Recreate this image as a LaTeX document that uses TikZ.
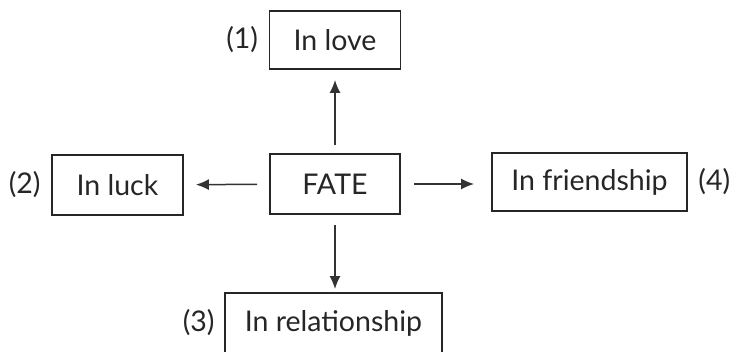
\documentclass[tikz,border=0pt]{standalone}
\usepackage{fontspec}
\setmainfont{Lato}
\usetikzlibrary{shapes, arrows.meta, positioning}

\begin{document}
\begin{tikzpicture}[x=1pt, y=-1pt]
        \tikzstyle{every node}=[align=center, font=\fontsize{28.5}{31}\selectfont, text=black!85]
        \tikzstyle{box}=[draw=black!85, line width=1.8pt, minimum height=58pt, inner sep=0pt]
        \tikzstyle{link}=[>={Latex[length=13pt, width=11pt]}, ->, line width=1.5pt, draw=black!80]
        \useasboundingbox (0,0) rectangle (736,352);

        \node[box, minimum width=131pt] at (335, 40) (love) {In love};
        \node[box, minimum width=130pt, minimum height=60pt] at (335, 184) (fate) {FATE};
        \node[box, minimum width=131pt, minimum height=60pt] at (117.5, 185) (luck) {In luck};
        \node[box, minimum width=195pt] at (589.5, 182) (friend) {In friendship};
        \node[box, minimum width=217pt, minimum height=60pt] at (333.5, 323) (rel) {In relationship};

        \node[left=7pt of love] (n1) {(1)};
        \node[left=7pt of luck] (n2) {(2)};
        \node[left=6pt of rel] (n3) {(3)};
        \node[right=7pt of friend] (n4) {(4)};

        \draw[link, shorten <=8pt, shorten >=10pt] (fate) -- (love);
        \draw[link, shorten <=12pt, shorten >=12pt] (fate) -- (luck);
        \draw[link, shorten <=13pt, shorten >=17pt] (fate.east) -- (fate.east -| friend.west);
        \draw[link, shorten <=10pt, shorten >=3pt] (fate.south) -- (fate.south |- rel.north);
\end{tikzpicture}
\end{document}
